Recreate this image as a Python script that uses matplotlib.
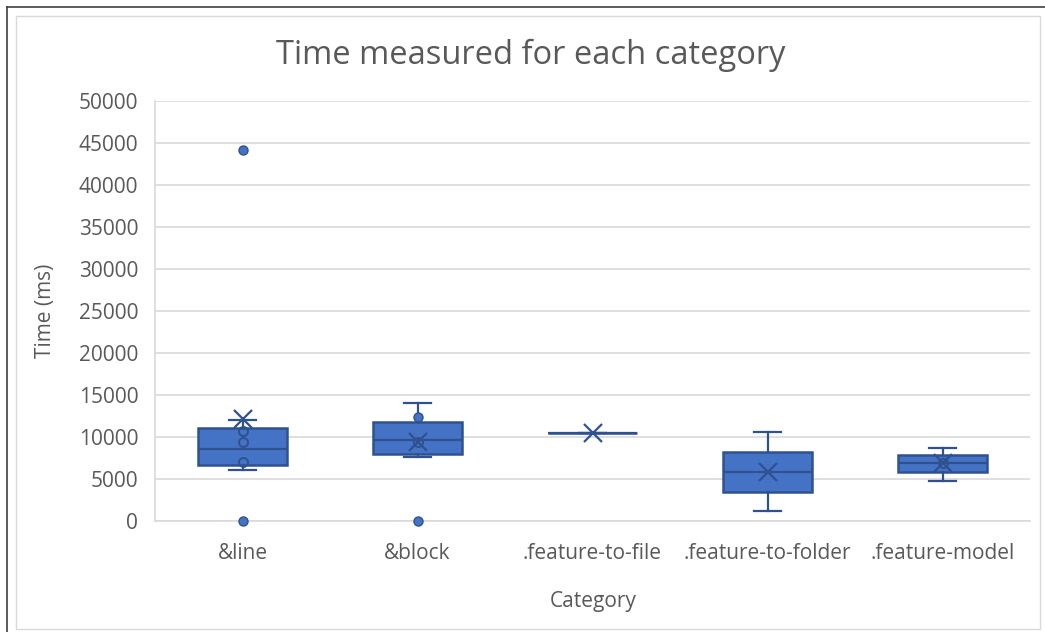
import matplotlib
matplotlib.use("Agg")
import matplotlib.pyplot as plt
from matplotlib.patches import Rectangle

plt.rcParams['font.family'] = ['Open Sans', 'DejaVu Sans']

categories = ["&line", "&block", ".feature-to-file", ".feature-to-folder", ".feature-model"]
q1 = [6667, 7976, 10450, 3452, 5833]
median = [8571, 9643, 10450, 5833, 6905]
q3 = [11071, 11786, 10450, 8214, 7857]
whisker_low = [6071, 7619, 10420, 1190, 4762]
whisker_high = [12000, 14048, 10500, 10595, 8690]
means = [12100, 9405, 10476, 5833, 6850]
outliers = [[44200, 0], [12381, 0], [], [], []]
inner_points = [[10714, 9405, 7024], [9405], [], [], [6905]]

yticks = [0, 5000, 10000, 15000, 20000, 25000, 30000, 35000, 40000, 45000, 50000]

FILL = "#4472C4"
EDGE = "#2F528F"
TEXT = "#595959"
GRID = "#D9D9D9"

W, H = 1045, 632
fig = plt.figure(figsize=(W / 100, H / 100), dpi=100)

# chart frame borders
fig.add_artist(Rectangle((16 / W, 1 - 629 / H), (1040 - 16) / W, (629 - 16) / H,
                         transform=fig.transFigure, fill=False, edgecolor="#D9D9D9", lw=1.0))
fig.add_artist(plt.Line2D([7 / W, 7 / W], [0, 1 - 7 / H], transform=fig.transFigure, color="#404040", lw=1.2))
fig.add_artist(plt.Line2D([7 / W, 1], [1 - 7 / H, 1 - 7 / H], transform=fig.transFigure, color="#404040", lw=1.2))

ax = fig.add_axes([155 / W, 1 - 521 / H, (1030 - 155) / W, (521 - 101) / H])

stats = []
for i, c in enumerate(categories):
    stats.append(dict(label=c, q1=q1[i], med=median[i], q3=q3[i],
                      whislo=whisker_low[i], whishi=whisker_high[i],
                      mean=means[i], fliers=[]))

pos = list(range(len(categories)))
ax.bxp(stats, positions=pos, widths=0.51, patch_artist=True, showmeans=True,
       showfliers=False,
       boxprops=dict(facecolor=FILL, edgecolor=EDGE, linewidth=1.8),
       medianprops=dict(color=EDGE, linewidth=1.6),
       whiskerprops=dict(color=EDGE, linewidth=1.6),
       capprops=dict(color=EDGE, linewidth=1.6),
       capwidths=0.15,
       meanprops=dict(marker="x", markeredgecolor=EDGE, markersize=13, markeredgewidth=1.6),
       zorder=3)

for i in pos:
    if inner_points[i]:
        ax.plot([i] * len(inner_points[i]), inner_points[i], linestyle="none", marker="o",
                markersize=6.5, markerfacecolor="none", markeredgecolor=EDGE,
                markeredgewidth=1.4, zorder=4, clip_on=False)
    if outliers[i]:
        ax.plot([i] * len(outliers[i]), outliers[i], linestyle="none", marker="o",
                markersize=6.5, markerfacecolor=FILL, markeredgecolor=EDGE,
                markeredgewidth=1.0, zorder=4, clip_on=False)

ax.set_xlim(-0.5, len(categories) - 0.5)
ax.set_ylim(0, 50000)
ax.set_yticks(yticks)
ax.set_yticklabels([str(v) for v in yticks])
ax.set_xticks(pos)
ax.set_xticklabels(categories)
ax.grid(axis="y", color=GRID, linewidth=1.2, zorder=0)
ax.set_axisbelow(True)
for s in ["top", "right"]:
    ax.spines[s].set_visible(False)
ax.spines["left"].set_color(GRID)
ax.spines["bottom"].set_color(GRID)
ax.spines["left"].set_linewidth(1.2)
ax.spines["bottom"].set_linewidth(1.2)
ax.tick_params(axis="both", length=0, labelsize=15, colors=TEXT)
ax.tick_params(axis="y", pad=12)
ax.tick_params(axis="x", pad=16)

fig.text(531 / W, 1 - 55 / H, "Time measured for each category", ha="center", va="center",
         fontsize=23.5, color=TEXT)
fig.text(46 / W, 1 - 311 / H, "Time (ms)", ha="center", va="center", rotation=90,
         fontsize=15, color=TEXT)
fig.text(593 / W, 1 - 601 / H, "Category", ha="center", va="center",
         fontsize=15, color=TEXT)

fig.savefig("out.png", dpi=100)
